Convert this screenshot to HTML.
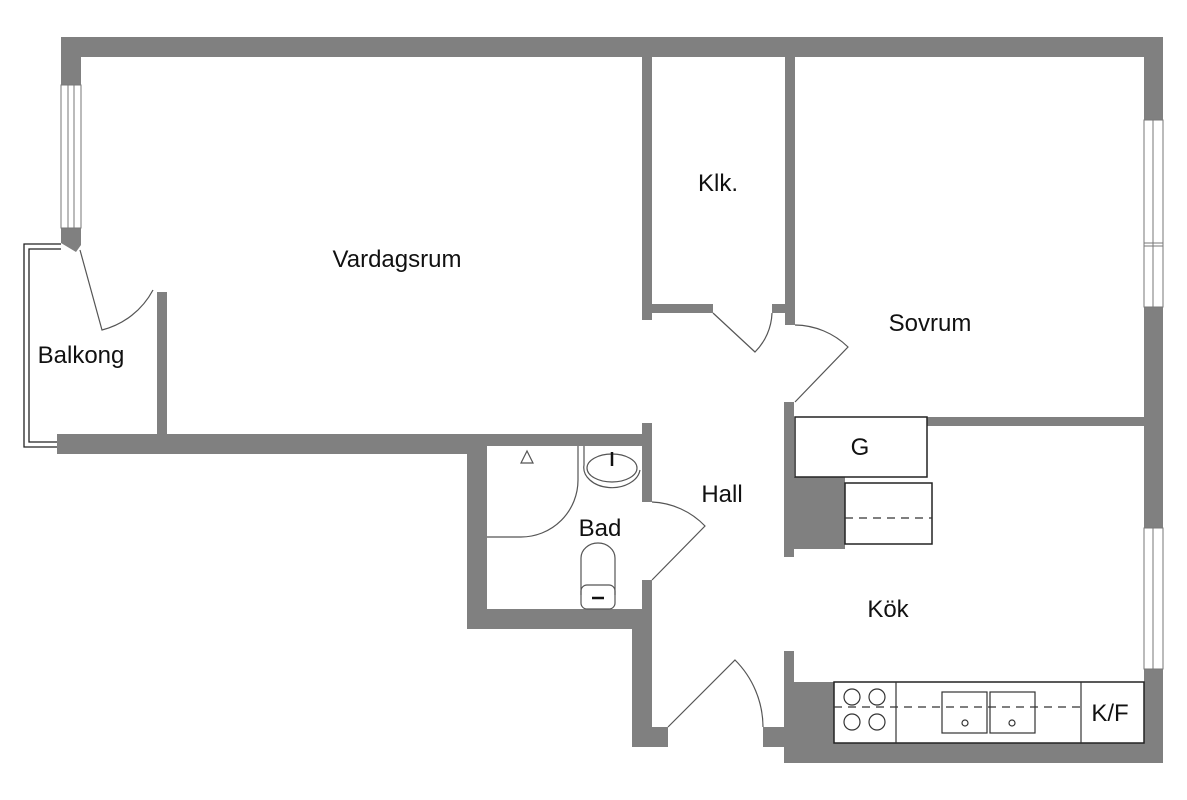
<!DOCTYPE html>
<html><head><meta charset="utf-8"><style>
html,body{margin:0;padding:0;background:#fff;}
svg{display:block;}
text{font-family:"Liberation Sans",sans-serif;font-size:24px;fill:#111;text-anchor:middle;}
</style></head><body>
<svg width="1187" height="800" viewBox="0 0 1187 800" xmlns="http://www.w3.org/2000/svg">
<g fill="#808080">
<rect x="61" y="37" width="1102" height="20"/>
<rect x="61" y="37" width="20" height="48"/>
<polygon points="61,228 81,228 81,245 76,252 61,243"/>
<rect x="57" y="434" width="413" height="20"/>
<rect x="467" y="434" width="185" height="12"/>
<rect x="157" y="292" width="10" height="145"/>
<rect x="642" y="57" width="10" height="263"/>
<rect x="652" y="304" width="61" height="9"/>
<rect x="772" y="304" width="13" height="9"/>
<rect x="785" y="57" width="10" height="268"/>
<rect x="784" y="402" width="10" height="155"/>
<rect x="927" y="417" width="218" height="9"/>
<rect x="1144" y="37" width="19" height="83"/>
<rect x="1144" y="307" width="19" height="221"/>
<rect x="1144" y="669" width="19" height="94"/>
<rect x="784" y="743" width="379" height="20"/>
<rect x="784" y="651" width="10" height="112"/>
<rect x="794" y="682" width="40" height="61"/>
<rect x="794" y="477" width="51" height="72"/>
<rect x="467" y="434" width="20" height="195"/>
<rect x="467" y="609" width="185" height="20"/>
<rect x="642" y="423" width="10" height="79"/>
<rect x="642" y="580" width="10" height="167"/>
<rect x="632" y="609" width="20" height="138"/>
<rect x="652" y="727" width="16" height="20"/>
<rect x="763" y="727" width="21" height="20"/>
</g>
<g fill="#fff" stroke="#777" stroke-width="1">
<rect x="61" y="85" width="20" height="143"/>
<line x1="68" y1="85" x2="68" y2="228"/><line x1="74" y1="85" x2="74" y2="228"/>
<rect x="1144" y="120" width="19" height="187"/>
<line x1="1153" y1="120" x2="1153" y2="307"/>
<line x1="1144" y1="243" x2="1163" y2="243"/><line x1="1144" y1="246" x2="1163" y2="246"/>
<rect x="1144" y="528" width="19" height="141"/>
<line x1="1153" y1="528" x2="1153" y2="669"/>
</g>
<g fill="none" stroke="#222" stroke-width="1.3">
<polyline points="61,244 24,244 24,447 57,447"/>
<polyline points="61,249 29,249 29,442 57,442"/>
</g>
<g fill="none" stroke="#555" stroke-width="1.2">
<path d="M80,250 L102,330 A80,80 0 0 0 153,290"/>
<path d="M713,313 L755,352 A58,58 0 0 0 772,313"/>
<path d="M795,402 L848,347 A77,77 0 0 0 795,325"/>
<path d="M652,580 L705,526 A78,78 0 0 0 652,502"/>
<path d="M668,727 L735,660 A95,95 0 0 1 763,727"/>
<path d="M578,446 L578,480 A57,57 0 0 1 521,537 L487,537"/>
<polygon points="527,451 521,463 533,463"/>
<ellipse cx="612" cy="468" rx="25" ry="14"/>
<path d="M584,446 L584,465 A28,20 0 0 0 640,470"/>
<line x1="612" y1="452" x2="612" y2="466" stroke="#111" stroke-width="2.5"/>
<path d="M581,595 L581,558 A17,15 0 0 1 615,558 L615,595"/>
<rect x="581" y="585" width="34" height="24" rx="6"/>
<line x1="592" y1="598" x2="604" y2="598" stroke="#111" stroke-width="2.5"/>
</g>
<g fill="#fff" stroke="#222" stroke-width="1.5">
<rect x="795" y="417" width="132" height="60"/>
<rect x="845" y="483" width="87" height="61"/>
<rect x="834" y="682" width="310" height="61"/>
</g>
<g fill="none" stroke="#333" stroke-width="1.2">
<line x1="845" y1="518" x2="932" y2="518" stroke-dasharray="8,6"/>
<line x1="834" y1="707" x2="1081" y2="707" stroke-dasharray="8,6"/>
<line x1="896" y1="682" x2="896" y2="743"/>
<line x1="1081" y1="682" x2="1081" y2="743"/>
<circle cx="852" cy="697" r="8"/><circle cx="877" cy="697" r="8"/>
<circle cx="852" cy="722" r="8"/><circle cx="877" cy="722" r="8"/>
<rect x="942" y="692" width="45" height="41"/>
<rect x="990" y="692" width="45" height="41"/>
<circle cx="965" cy="723" r="3"/><circle cx="1012" cy="723" r="3"/>
</g>
<text x="397" y="267">Vardagsrum</text>
<text x="718" y="191">Klk.</text>
<text x="930" y="331">Sovrum</text>
<text x="81" y="363">Balkong</text>
<text x="722" y="502">Hall</text>
<text x="600" y="536">Bad</text>
<text x="860" y="455">G</text>
<text x="888" y="617">Kök</text>
<text x="1110" y="721">K/F</text>
</svg>
</body></html>
